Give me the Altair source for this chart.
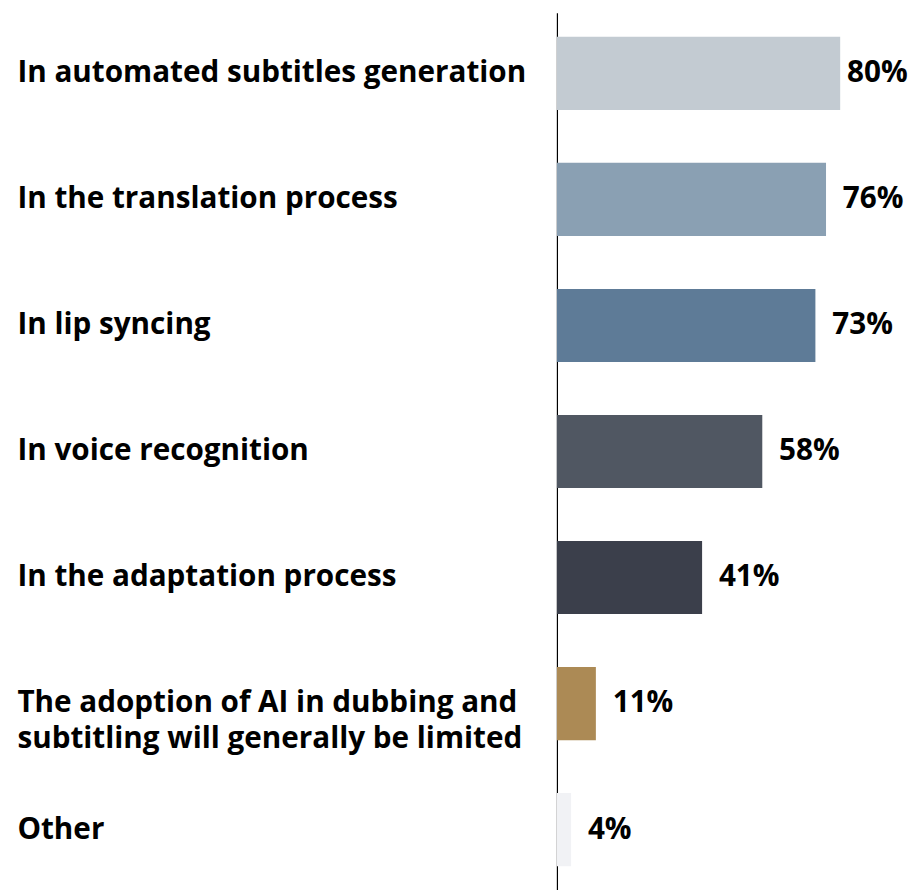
import altair as alt
import pandas as pd

categories = [
    "In automated subtitles generation",
    "In the translation process",
    "In lip syncing",
    "In voice recognition",
    "In the adaptation process",
    "The adoption of AI in dubbing and|subtitling will generally be limited",
    "Other",
]
values = [80, 76, 73, 58, 41, 11, 4]
labels = ["80%", "76%", "73%", "58%", "41%", "11%", "4%"]
colors = ["#c3cbd2", "#8aa0b3", "#5e7b97", "#505762", "#3b3f4b", "#ac8a55", "#f1f2f5"]

df = pd.DataFrame({"category": categories, "value": values, "label": labels})

FONT = "Open Sans"
FS = 30

y_enc = alt.Y(
    "category:N",
    sort=categories,
    scale=alt.Scale(paddingInner=0.42, paddingOuter=0.19),
    axis=alt.Axis(
        title=None,
        ticks=False,
        grid=False,
        domain=True,
        domainColor="#000000",
        domainWidth=1.2,
        labelAlign="left",
        labelPadding=546,
        labelLimit=700,
        labelFont=FONT,
        labelFontSize=FS,
        labelFontWeight="bold",
        labelColor="#000000",
        labelLineHeight=36,
        labelExpr="split(datum.label, '|')",
    ),
)
x_enc = alt.X("value:Q", scale=alt.Scale(domain=[0, 100]), axis=None)

bars = alt.Chart(df).mark_bar().encode(
    x=x_enc,
    y=y_enc,
    color=alt.Color(
        "category:N",
        scale=alt.Scale(domain=categories, range=colors),
        legend=None,
    ),
)

text_main = alt.Chart(df).transform_filter(
    alt.datum.value < 80
).mark_text(
    align="left", baseline="middle", dx=17, font=FONT, fontSize=FS,
    fontWeight="bold", color="#000000",
).encode(x=x_enc, y=alt.Y("category:N", sort=categories), text="label:N")

text_first = alt.Chart(df).transform_filter(
    alt.datum.value >= 80
).mark_text(
    align="left", baseline="middle", dx=7, font=FONT, fontSize=FS,
    fontWeight="bold", color="#000000",
).encode(x=x_enc, y=alt.Y("category:N", sort=categories), text="label:N")

chart = (
    alt.layer(bars, text_main, text_first)
    .properties(
        width=358,
        height=887,
        background="#ffffff",
        padding={"left": 9, "top": 0, "right": 0, "bottom": 0},
    )
    .configure_view(stroke=None)
)

chart.save("out.html", embed_options={"renderer": "svg", "actions": False})
